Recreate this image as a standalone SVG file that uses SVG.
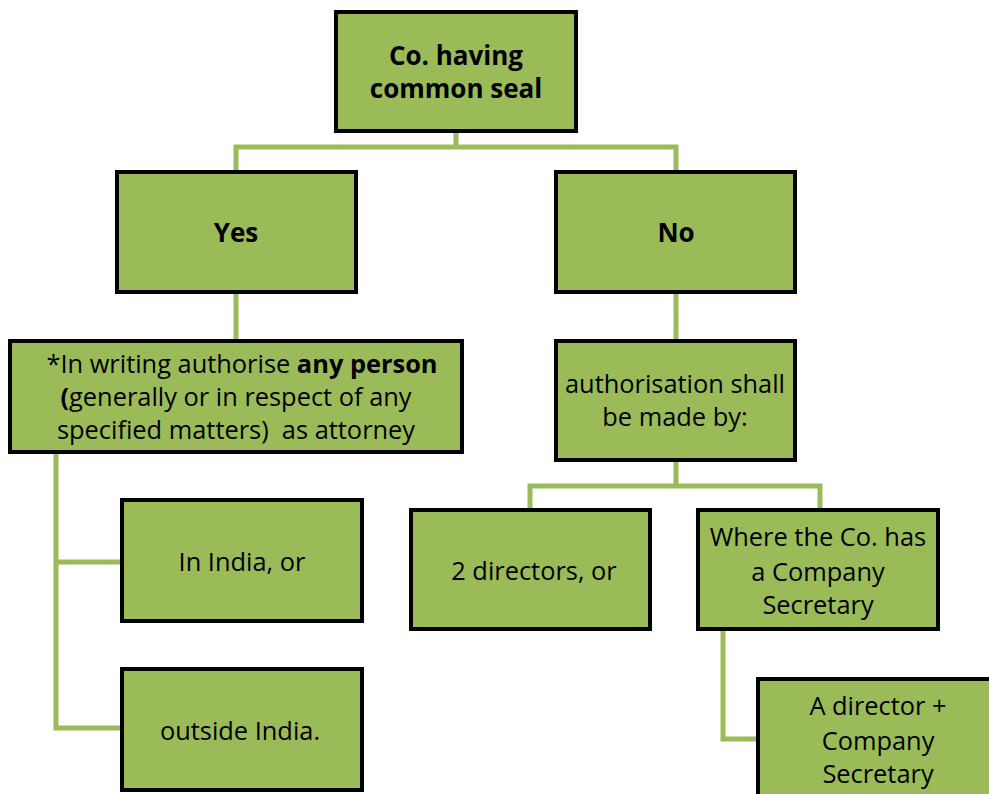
<svg xmlns="http://www.w3.org/2000/svg" width="989" height="794" viewBox="0 0 989 794">
<style>
.box{fill:#9BBB59;stroke:#000;stroke-width:4}
.con{fill:none;stroke:#9BBB59;stroke-width:5}
text{font-family:"Open Sans","Noto Sans",sans-serif;font-size:25.4px;fill:#000;text-anchor:middle;white-space:pre}
.b{font-weight:bold}
.t{font-size:26px}
</style>
<rect width="989" height="794" fill="#fff"/>
<g id="connectors">
<path class="con" d="M456 131V147M236 172V147H676V172"/>
<path class="con" d="M236 292V341"/>
<path class="con" d="M676 292V341"/>
<path class="con" d="M676 460V486M530 511V486H820V511"/>
<path class="con" d="M56 452V728H122M56 562H122"/>
<path class="con" d="M723 629V739H759"/>
</g>
<g id="n-top"><rect class="box" x="336" y="12" width="240" height="119"/>
<text class="b t" x="456" y="65">Co. having</text><text class="b t" x="456" y="98">common seal</text></g>
<g id="n-yes"><rect class="box" x="117" y="172" width="239" height="120"/><text class="b t" x="236" y="242">Yes</text></g>
<g id="n-no"><rect class="box" x="556" y="172" width="239" height="120"/><text class="b t" x="676" y="242">No</text></g>
<g id="n-writing"><rect class="box" x="10" y="341" width="452" height="111"/>
<text x="242" y="373">*In writing authorise <tspan class="b">any person</tspan></text>
<text x="236" y="406"><tspan class="b">(</tspan>generally or in respect of any</text>
<text x="236" y="439">specified matters)  as attorney</text></g>
<g id="n-auth"><rect class="box" x="556" y="341" width="239" height="119"/>
<text x="675" y="393">authorisation shall</text><text x="675" y="426">be made by:</text></g>
<g id="n-india"><rect class="box" x="122" y="500" width="240" height="121"/><text x="242" y="571">In India, or</text></g>
<g id="n-outside"><rect class="box" x="122" y="669" width="240" height="121"/><text x="240" y="740">outside India.</text></g>
<g id="n-2dir"><rect class="box" x="411" y="510" width="239" height="119"/><text x="534" y="580">2 directors, or</text></g>
<g id="n-where"><rect class="box" x="698" y="510" width="240" height="119"/>
<text x="818" y="546">Where the Co. has</text><text x="818" y="581">a Company</text><text x="818" y="614">Secretary</text></g>
<g id="n-adir"><rect class="box" x="758" y="679" width="240" height="119"/>
<text x="878" y="715">A director +</text><text x="878" y="750">Company</text><text x="878" y="783">Secretary</text></g>
</svg>
